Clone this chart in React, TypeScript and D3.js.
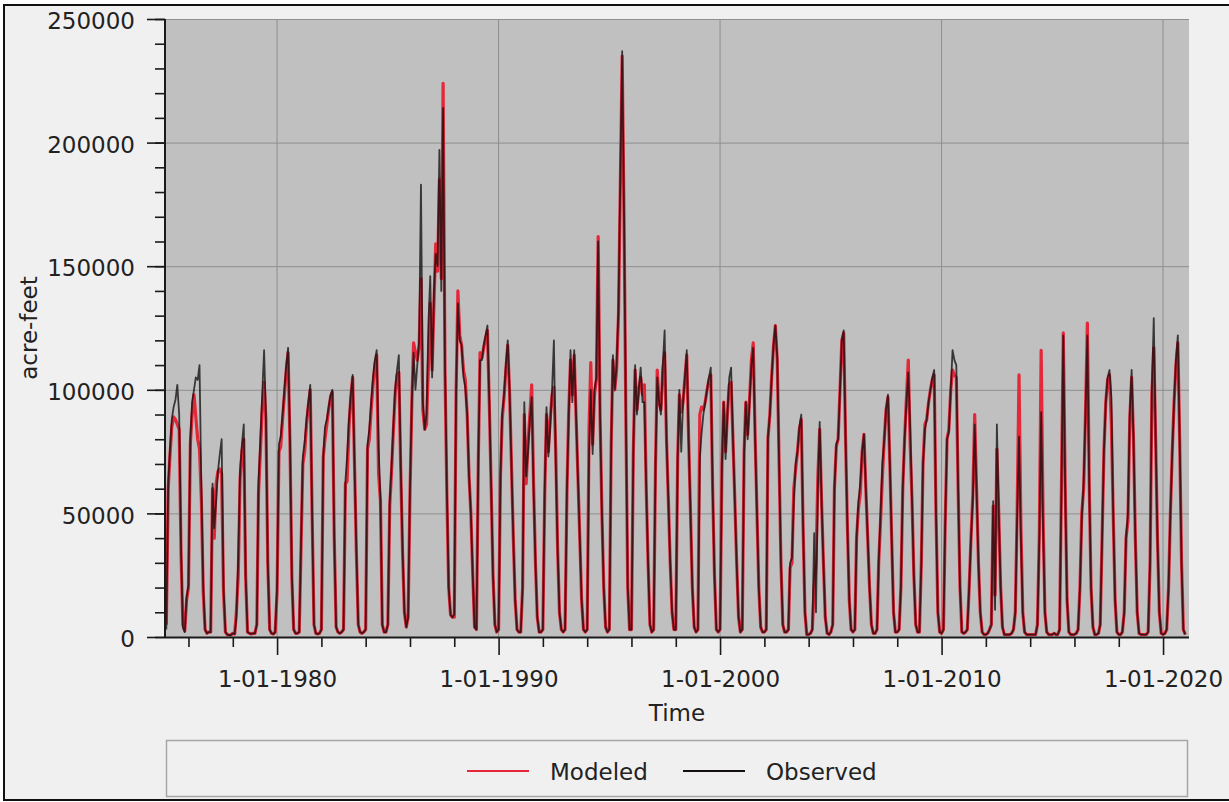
import React, { useRef, useEffect } from "react";
import * as d3 from "d3";

const firstYear = 1975;

// monthly volumes (acre-feet), one row per calendar year, Jan..Dec
const observed: number[][] = [
  [3000, 62000, 75000, 88000, 93000, 96000, 102000, 90000, 35000, 4000, 2000, 16000], // 1975
  [21000, 80000, 95000, 100000, 105000, 104000, 110000, 60000, 20000, 3000, 1500, 2000],
  [2000, 62000, 44000, 55000, 67000, 74000, 80000, 20000, 2000, 1000, 800, 800],
  [1500, 1200, 8000, 32000, 67000, 78000, 86000, 25000, 2000, 1500, 1200, 1500],
  [1500, 5000, 62000, 80000, 98000, 116000, 90000, 30000, 3000, 1500, 1200, 2000],
  [20000, 78000, 81000, 90000, 100000, 110000, 117000, 80000, 25000, 3000, 1500, 1500], // 1980
  [2000, 40000, 73000, 79000, 88000, 95000, 102000, 50000, 5000, 1500, 1200, 1500],
  [3000, 73000, 85000, 88000, 93000, 98000, 100000, 40000, 4000, 2000, 1500, 2000],
  [3000, 63000, 73000, 88000, 98000, 106000, 70000, 35000, 5000, 2000, 1500, 2000],
  [3000, 78000, 84000, 95000, 105000, 112000, 116000, 77000, 55000, 5000, 2000, 2000],
  [5000, 55000, 68000, 85000, 100000, 108000, 114000, 70000, 35000, 10000, 4000, 8000], // 1985
  [60000, 96000, 115000, 100000, 110000, 120000, 183000, 95000, 84000, 90000, 127000, 146000],
  [105000, 140000, 155000, 150000, 197000, 140000, 214000, 110000, 60000, 20000, 9000, 8000],
  [9000, 100000, 135000, 120000, 118000, 105000, 101000, 90000, 65000, 50000, 25000, 4000],
  [3000, 72000, 112000, 112000, 118000, 122000, 126000, 95000, 60000, 25000, 5000, 2000],
  [3000, 65000, 90000, 98000, 110000, 120000, 100000, 70000, 40000, 15000, 3000, 2000], // 1990
  [2000, 20000, 95000, 65000, 75000, 88000, 97000, 60000, 30000, 8000, 2000, 2000],
  [3000, 60000, 93000, 73000, 85000, 100000, 120000, 70000, 35000, 10000, 3000, 2000],
  [3000, 60000, 88000, 116000, 95000, 116000, 90000, 65000, 40000, 15000, 3000, 2000],
  [3000, 75000, 100000, 74000, 100000, 105000, 160000, 90000, 50000, 20000, 4000, 2000],
  [3000, 78000, 114000, 100000, 110000, 133000, 185000, 237000, 170000, 90000, 20000, 3000], // 1995
  [3000, 75000, 110000, 90000, 100000, 109000, 95000, 95000, 60000, 30000, 5000, 2000],
  [3000, 70000, 105000, 95000, 90000, 110000, 124000, 80000, 55000, 30000, 10000, 3000],
  [3000, 72000, 100000, 75000, 95000, 105000, 116000, 80000, 50000, 20000, 4000, 2000],
  [3000, 72000, 82000, 90000, 95000, 100000, 105000, 109000, 60000, 25000, 3000, 2000],
  [3000, 69000, 95000, 72000, 90000, 105000, 109000, 80000, 55000, 30000, 8000, 2000], // 2000
  [3000, 75000, 95000, 80000, 95000, 110000, 117000, 80000, 50000, 20000, 4000, 2000],
  [2000, 3000, 81000, 90000, 105000, 118000, 126000, 113000, 70000, 30000, 5000, 2000],
  [2000, 3000, 30000, 32000, 55000, 70000, 75000, 85000, 90000, 45000, 10000, 1000],
  [1000, 1500, 3000, 42000, 10000, 60000, 87000, 55000, 30000, 8000, 1500, 1000],
  [2000, 5000, 60000, 78000, 80000, 100000, 120000, 124000, 80000, 45000, 15000, 3000], // 2005
  [2000, 3000, 40000, 55000, 62000, 75000, 82000, 60000, 40000, 20000, 5000, 1500],
  [1500, 3000, 30000, 50000, 70000, 80000, 92000, 98000, 70000, 40000, 10000, 2000],
  [2000, 3000, 20000, 60000, 80000, 95000, 107000, 85000, 55000, 25000, 5000, 2000],
  [2000, 30000, 70000, 84000, 88000, 95000, 100000, 105000, 108000, 50000, 10000, 2000],
  [1500, 3000, 45000, 80000, 83000, 100000, 116000, 112000, 110000, 60000, 20000, 2000], // 2010
  [1500, 2000, 3000, 20000, 40000, 56000, 86000, 60000, 30000, 10000, 2000, 1000],
  [1000, 1500, 3000, 5000, 55000, 11000, 86000, 50000, 20000, 4000, 1000, 1000],
  [1000, 1000, 1500, 3000, 10000, 50000, 81000, 40000, 10000, 2000, 1000, 1000],
  [1000, 1000, 1000, 1000, 5000, 40000, 91000, 45000, 10000, 2000, 1000, 1000],
  [1000, 1500, 1000, 1000, 3000, 60000, 122000, 60000, 15000, 2000, 1000, 1000], // 2015
  [1000, 1500, 3000, 20000, 48000, 63000, 90000, 122000, 60000, 20000, 4000, 1000],
  [1000, 1500, 5000, 40000, 75000, 95000, 105000, 108000, 97000, 50000, 15000, 2000],
  [1000, 1000, 2000, 10000, 40000, 50000, 90000, 108000, 80000, 40000, 10000, 1500],
  [1000, 1000, 1000, 1000, 2000, 30000, 100000, 129000, 80000, 40000, 10000, 1500],
  [1000, 1500, 3000, 20000, 50000, 75000, 95000, 112000, 122000, 80000, 30000, 3000], // 2020
  [1000],
];

const modeled: number[][] = [
  [5000, 60000, 73000, 85000, 89000, 88000, 86000, 84000, 33000, 5000, 2500, 15000], // 1975
  [20000, 78000, 90000, 98000, 89000, 80000, 76000, 55000, 18000, 3000, 1500, 2000],
  [2000, 60000, 40000, 62000, 67000, 68000, 66000, 18000, 2000, 1000, 800, 800],
  [1500, 1200, 10000, 25000, 64000, 75000, 80000, 24000, 2000, 1500, 1200, 1500],
  [1500, 5000, 58000, 75000, 92000, 103000, 88000, 30000, 3000, 1500, 1200, 2000],
  [18000, 75000, 77000, 88000, 98000, 108000, 115000, 78000, 24000, 3000, 1500, 1500], // 1980
  [2000, 38000, 70000, 75000, 86000, 94000, 100000, 50000, 5000, 1500, 1200, 1500],
  [3000, 73000, 80000, 86000, 92000, 97000, 99000, 40000, 4000, 2000, 1500, 2000],
  [3000, 62000, 63000, 85000, 97000, 105000, 70000, 34000, 5000, 2000, 1500, 2000],
  [3000, 76000, 80000, 92000, 102000, 110000, 114000, 66000, 55000, 5000, 2000, 2000],
  [5000, 53000, 66000, 83000, 98000, 106000, 107000, 68000, 34000, 10000, 4000, 8000], // 1985
  [58000, 95000, 119000, 115000, 112000, 118000, 145000, 92000, 84000, 86000, 110000, 135000],
  [108000, 135000, 159000, 148000, 185000, 145000, 224000, 108000, 58000, 20000, 9000, 8000],
  [8000, 100000, 140000, 122000, 118000, 108000, 104000, 90000, 65000, 50000, 25000, 4000],
  [3000, 72000, 115000, 113000, 117000, 121000, 124000, 94000, 60000, 25000, 5000, 2000],
  [3000, 65000, 88000, 97000, 108000, 118000, 99000, 70000, 40000, 15000, 3000, 2000], // 1990
  [2000, 20000, 90000, 62000, 78000, 90000, 102000, 62000, 30000, 8000, 2000, 2000],
  [3000, 58000, 90000, 75000, 88000, 98000, 101000, 75000, 35000, 10000, 3000, 2000],
  [3000, 58000, 90000, 112000, 98000, 114000, 90000, 65000, 40000, 15000, 3000, 2000],
  [3000, 85000, 111000, 78000, 98000, 104000, 162000, 90000, 50000, 20000, 4000, 2000],
  [3000, 78000, 112000, 100000, 108000, 130000, 182000, 235000, 168000, 88000, 20000, 3000], // 1995
  [3000, 75000, 108000, 92000, 100000, 105000, 98000, 102000, 60000, 30000, 5000, 2000],
  [3000, 70000, 108000, 95000, 92000, 108000, 115000, 80000, 55000, 30000, 10000, 3000],
  [3000, 72000, 98000, 91000, 95000, 105000, 114000, 80000, 50000, 20000, 4000, 2000],
  [3000, 90000, 93000, 92000, 95000, 100000, 104000, 106000, 60000, 25000, 3000, 2000],
  [3000, 69000, 95000, 75000, 90000, 102000, 103000, 80000, 55000, 30000, 8000, 2000], // 2000
  [3000, 75000, 95000, 82000, 96000, 112000, 119000, 82000, 50000, 20000, 4000, 2000],
  [2000, 3000, 80000, 90000, 105000, 118000, 126000, 112000, 70000, 30000, 5000, 2000],
  [2000, 3000, 28000, 30000, 60000, 68000, 75000, 84000, 88000, 45000, 10000, 1000],
  [1000, 1500, 3000, 20000, 30000, 65000, 84000, 55000, 30000, 8000, 1500, 1000],
  [2000, 5000, 60000, 77000, 80000, 100000, 120000, 123000, 80000, 45000, 15000, 3000], // 2005
  [2000, 3000, 40000, 52000, 58000, 75000, 82000, 60000, 40000, 20000, 5000, 1500],
  [1500, 3000, 30000, 47000, 65000, 80000, 92000, 97000, 70000, 40000, 10000, 2000],
  [2000, 3000, 20000, 60000, 80000, 97000, 112000, 78000, 55000, 25000, 5000, 2000],
  [2000, 30000, 70000, 86000, 88000, 95000, 100000, 104000, 106000, 50000, 10000, 2000],
  [1500, 3000, 45000, 80000, 84000, 100000, 108000, 106000, 105000, 60000, 20000, 2000], // 2010
  [1500, 2000, 3000, 20000, 40000, 58000, 90000, 60000, 30000, 10000, 2000, 1000],
  [1000, 1500, 3000, 5000, 53000, 17000, 76000, 50000, 20000, 4000, 1000, 1000],
  [1000, 1000, 1500, 3000, 10000, 52000, 106000, 45000, 10000, 2000, 1000, 1000],
  [1000, 1000, 1000, 1000, 5000, 42000, 116000, 50000, 10000, 2000, 1000, 1000],
  [1000, 1500, 1000, 1000, 3000, 62000, 123000, 62000, 15000, 2000, 1000, 1000], // 2015
  [1000, 1500, 3000, 20000, 50000, 60000, 90000, 127000, 62000, 20000, 4000, 1000],
  [1000, 1500, 5000, 40000, 75000, 95000, 104000, 106000, 86000, 50000, 15000, 2000],
  [1000, 1000, 2000, 10000, 40000, 47000, 88000, 105000, 80000, 40000, 10000, 1500],
  [1000, 1000, 1000, 1000, 2000, 30000, 98000, 117000, 80000, 40000, 10000, 1500],
  [1000, 1500, 3000, 20000, 50000, 75000, 95000, 110000, 119000, 80000, 30000, 3000], // 2020
  [1000],
];

const yMajorTicks = [0, 50000, 100000, 150000, 200000, 250000];
const xMajorYears = [1980, 1990, 2000, 2010, 2020];
const xMinorYears = [1976, 1978, 1982, 1984, 1986, 1988, 1992, 1994, 1996, 1998, 2002, 2004, 2006, 2008, 2012, 2014, 2016, 2018];
const seriesNames = ["Modeled", "Observed"];
const seriesColors = ["#e4283a", "#141010"];

type Pt = { date: Date; value: number };

const toPoints = (rows: number[][]): Pt[] =>
  rows.flatMap((row, i) => row.map((v, m) => ({ date: new Date(firstYear + i, m, 1), value: v })));

const FONT = "DejaVu Sans, Verdana, sans-serif";

const Chart = () => {
  const svgRef = useRef<SVGSVGElement | null>(null);

  useEffect(() => {
    const svg = d3.select(svgRef.current);
    svg.selectAll("*").remove();

    const width = 1229;
    const height = 802;
    const margin = { top: 19, left: 165 };
    const innerWidth = 1024;
    const innerHeight = 618;

    // panel background + black frame
    svg.append("rect").attr("width", width).attr("height", height).attr("fill", "#ffffff");
    svg.append("rect")
      .attr("x", 4).attr("y", 5).attr("width", 1232).attr("height", 795)
      .attr("fill", "#f0f0f0").attr("stroke", "#111").attr("stroke-width", 2);

    const xScale = d3.scaleTime()
      .domain([new Date(1974, 11, 10), new Date(2021, 2, 4)])
      .range([0, innerWidth]);

    const yScale = d3.scaleLinear()
      .domain([0, 250000])
      .range([innerHeight, 0]);

    const g = svg.append("g").attr("transform", `translate(${margin.left}, ${margin.top})`);

    // plot background
    g.append("rect").attr("width", innerWidth).attr("height", innerHeight).attr("fill", "#c0c0c0");

    // grid
    g.selectAll(".hgrid").data(yMajorTicks.slice(1)).enter().append("line")
      .attr("x1", 0).attr("x2", innerWidth)
      .attr("y1", d => yScale(d) + 0.5).attr("y2", d => yScale(d) + 0.5)
      .attr("stroke", "#8e8e8e").attr("stroke-width", 1);
    g.selectAll(".vgrid").data(xMajorYears).enter().append("line")
      .attr("x1", d => xScale(new Date(d, 0, 1))).attr("x2", d => xScale(new Date(d, 0, 1)))
      .attr("y1", 0).attr("y2", innerHeight)
      .attr("stroke", "#8e8e8e").attr("stroke-width", 1);

    // series
    g.append("clipPath").attr("id", "plot-clip").append("rect")
      .attr("width", innerWidth).attr("height", innerHeight + 2);

    const line = d3.line<Pt>()
      .x(d => xScale(d.date))
      .y(d => yScale(d.value));

    const series = [toPoints(modeled), toPoints(observed)];
    series.forEach((pts, i) => {
      g.append("path")
        .datum(pts)
        .attr("clip-path", "url(#plot-clip)")
        .attr("fill", "none")
        .attr("stroke", seriesColors[i])
        .attr("stroke-width", i === 0 ? 3.2 : 1.8)
        .attr("stroke-opacity", i === 0 ? 1 : 0.78)
        .attr("stroke-linejoin", "round")
        .attr("d", line);
    });

    // y axis
    const yMinor = g.append("g").call(
      d3.axisLeft(yScale).tickValues(d3.range(0, 250001, 10000)).tickSize(10).tickFormat(() => "")
    );
    yMinor.select(".domain").remove();
    yMinor.selectAll("line").attr("stroke", "#1a1a1a").attr("stroke-width", 1.6);

    const yAxisG = g.append("g").call(
      d3.axisLeft(yScale).tickValues(yMajorTicks).tickSize(18).tickPadding(12).tickFormat(d3.format("d"))
    );
    yAxisG.select(".domain").remove();
    yAxisG.selectAll("line").attr("stroke", "#1a1a1a").attr("stroke-width", 1.6);
    yAxisG.selectAll("text")
      .attr("font-family", FONT).attr("font-size", 23).attr("fill", "#222").attr("dy", "0.42em");

    // x axis
    const xMinor = g.append("g").attr("transform", `translate(0, ${innerHeight})`).call(
      d3.axisBottom(xScale).tickValues(xMinorYears.map(y => new Date(y, 0, 1))).tickSize(10).tickFormat(() => "")
    );
    xMinor.select(".domain").remove();
    xMinor.selectAll("line").attr("stroke", "#1a1a1a").attr("stroke-width", 1.6);

    const xAxisG = g.append("g").attr("transform", `translate(0, ${innerHeight})`).call(
      d3.axisBottom(xScale)
        .tickValues(xMajorYears.map(y => new Date(y, 0, 1)))
        .tickSize(18).tickPadding(16)
        .tickFormat(d => `1-01-${(d as Date).getFullYear()}`)
    );
    xAxisG.select(".domain").remove();
    xAxisG.selectAll("line").attr("stroke", "#1a1a1a").attr("stroke-width", 1.6);
    xAxisG.selectAll("text").attr("font-family", FONT).attr("font-size", 23).attr("fill", "#222");

    // axis lines
    g.append("line").attr("x1", 0).attr("x2", 0).attr("y1", 0).attr("y2", innerHeight + 1)
      .attr("stroke", "#1a1a1a").attr("stroke-width", 2);
    g.append("line").attr("x1", 0).attr("x2", innerWidth).attr("y1", innerHeight + 0.5).attr("y2", innerHeight + 0.5)
      .attr("stroke", "#1a1a1a").attr("stroke-width", 2);

    // axis titles
    svg.append("text")
      .attr("x", margin.left + innerWidth / 2).attr("y", 721)
      .attr("text-anchor", "middle").attr("font-family", FONT).attr("font-size", 23).attr("fill", "#222")
      .text("Time");
    svg.append("text")
      .attr("transform", `translate(37, ${margin.top + innerHeight / 2}) rotate(-90)`)
      .attr("text-anchor", "middle").attr("font-family", FONT).attr("font-size", 23).attr("fill", "#222")
      .text("acre-feet");

    // legend
    svg.append("rect")
      .attr("x", 166.5).attr("y", 740.5).attr("width", 1021).attr("height", 56)
      .attr("fill", "#f0f0f0").attr("stroke", "#a6a6a6").attr("stroke-width", 1.5);
    const legendX = [467, 683];
    seriesNames.forEach((name, i) => {
      svg.append("line")
        .attr("x1", legendX[i]).attr("x2", legendX[i] + 62).attr("y1", 771).attr("y2", 771)
        .attr("stroke", seriesColors[i]).attr("stroke-width", 2);
      svg.append("text")
        .attr("x", legendX[i] + 83).attr("y", 779.5)
        .attr("font-family", FONT).attr("font-size", 23).attr("fill", "#222")
        .text(name);
    });
  }, []);

  return (
    <svg
      ref={svgRef}
      width={1229}
      height={802}
      style={{ position: "absolute", left: 0, top: 0, display: "block" }}
    />
  );
};

const App = () => <Chart />;

export default App;
